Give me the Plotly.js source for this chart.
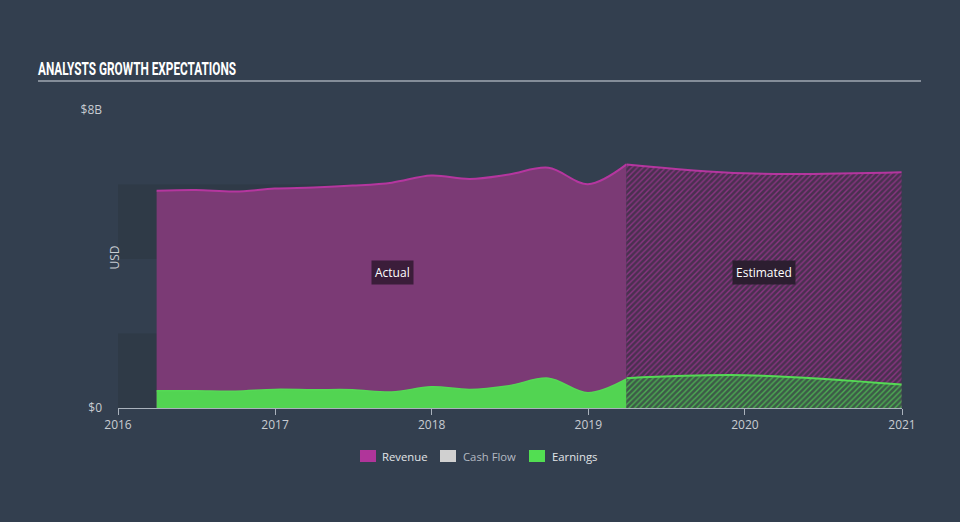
<!DOCTYPE html>
<html>
<head>
<meta charset="utf-8">
<script src="https://cdn.plot.ly/plotly-3.0.1.min.js"></script>
<style>
html,body{margin:0;padding:0;background:#333f4f;}
#chart{width:960px;height:522px;}
</style>
</head>
<body>
<div id="chart"></div>
<script>
// Actual quarterly data (USD billions)
const actualDates = ['2016-03-31','2016-06-30','2016-09-30','2016-12-31','2017-03-31','2017-06-30','2017-09-30','2017-12-31','2018-03-31','2018-06-30','2018-09-30','2018-12-31','2019-03-31'];
const actualRevenue = [5.83,5.85,5.81,5.89,5.92,5.97,6.05,6.24,6.15,6.27,6.45,6.01,6.54];
const actualEarnings = [0.46,0.46,0.45,0.50,0.49,0.49,0.43,0.57,0.50,0.60,0.80,0.41,0.78];
// Analyst estimates
const estDates = ['2019-03-31','2019-12-31','2020-12-31'];
const estRevenue = [6.54,6.30,6.33];
const estEarnings = [0.80,0.88,0.63];
// Axis labels
const xTickVals = ['2016-01-01','2017-01-01','2018-01-01','2019-01-01','2020-01-01','2021-01-01'];
const xTickText = ['2016','2017','2018','2019','2020','2021'];
const yTickVals = [0,8];
const yTickText = ['$0','$8B'];
const legendNames = ['Revenue','Cash Flow','Earnings'];
const legendColors = ['#b0359a','#d0d0d0','#52de52'];
const legendTextColors = ['#e2e5e8','#b4bac2','#e2e5e8'];

const revLine = '#b5369f', revFill = '#7b3a75';
const earnLine = '#55d955', earnFill = '#52d452';

const traces = [
  {x: actualDates, y: actualRevenue, type:'scatter', mode:'lines', fill:'tozeroy',
   line:{color:revLine, width:2, shape:'spline', smoothing:1}, fillcolor:revFill, showlegend:false, hoverinfo:'skip'},
  {x: estDates, y: estRevenue, type:'scatter', mode:'lines', fill:'tozeroy',
   line:{color:revLine, width:2, shape:'spline', smoothing:1}, fillcolor:'#4a3050',
   fillpattern:{shape:'/', bgcolor:'#4a3050', fgcolor:'#8a3582', size:4, solidity:0.35},
   showlegend:false, hoverinfo:'skip'},
  {x: actualDates, y: actualEarnings, type:'scatter', mode:'lines', fill:'tozeroy',
   line:{color:earnLine, width:1.5, shape:'spline', smoothing:1}, fillcolor:earnFill, showlegend:false, hoverinfo:'skip'},
  {x: estDates, y: estEarnings, type:'scatter', mode:'lines', fill:'tozeroy',
   line:{color:earnLine, width:2, shape:'spline', smoothing:1}, fillcolor:'#3d5a48',
   fillpattern:{shape:'/', bgcolor:'#3d5a48', fgcolor:'#4cae52', size:4, solidity:0.35},
   showlegend:false, hoverinfo:'skip'}
];

// pixel -> paper helpers
const PL = 118, PW = 784, PB = 408, PH = 298;
const px = v => (v - PL) / PW;
const py = v => (PB - v) / PH;

const legendSwatchX = [360, 440, 529];
const legendTextX = [380, 461, 550];
const legendShapes = legendNames.map((n, i) => ({
  type:'rect', xref:'paper', yref:'paper',
  x0:px(legendSwatchX[i]), x1:px(legendSwatchX[i] + 16), y0:py(462), y1:py(450),
  fillcolor:legendColors[i], line:{width:0}
}));
const legendAnns = legendNames.map((n, i) => ({
  xref:'paper', yref:'paper', x:px(legendTextX[i]), y:py(456), xanchor:'left', yanchor:'middle',
  text:n, showarrow:false, font:{color:legendTextColors[i], size:11.3}
}));

const layout = {
  width:960, height:522,
  paper_bgcolor:'#333f4f', plot_bgcolor:'#333f4f',
  margin:{l:118, r:58, t:110, b:114},
  font:{family:'"Open Sans", "DejaVu Sans", sans-serif', color:'#c8ccd2', size:12},
  title:{text:'<b>ANALYSTS GROWTH EXPECTATIONS</b>', x:38/960, xref:'container', xanchor:'left',
         y:1-68/522, yref:'container', yanchor:'middle',
         font:{family:'Roboto, "DejaVu Sans", sans-serif', size:19, color:'#ffffff'}},
  xaxis:{type:'date', range:['2016-01-01','2021-01-01'], tickvals:xTickVals, ticktext:xTickText,
         showgrid:false, zeroline:false, showline:true, linecolor:'#aab2bc', linewidth:1,
         ticks:'outside', ticklen:6, tickcolor:'#aab2bc', tickfont:{color:'#c8ccd2', size:12}},
  yaxis:{range:[0,8], tickvals:yTickVals, ticktext:yTickText, showgrid:false, zeroline:false,
         showline:false, ticks:'', ticklabelstandoff:15, tickfont:{color:'#c8ccd2', size:12}},
  shapes:[
    {type:'rect', xref:'x', yref:'y', x0:'2016-01-01', x1:'2021-01-01', y0:0, y1:2, fillcolor:'#2f3a47', line:{width:0}, layer:'below'},
    {type:'rect', xref:'x', yref:'y', x0:'2016-01-01', x1:'2021-01-01', y0:4, y1:6, fillcolor:'#2f3a47', line:{width:0}, layer:'below'},
    {type:'line', xref:'paper', yref:'paper', x0:px(38), x1:px(921), y0:py(81), y1:py(81), line:{color:'#a0a8b2', width:1.5}}
  ].concat(legendShapes),
  annotations:[
    {x:'2017-10-01', y:3.65, xref:'x', yref:'y', text:'Actual', showarrow:false, bgcolor:'#3b1d3a', borderpad:3,
     font:{color:'#ffffff', size:12}},
    {x:'2020-02-15', y:3.65, xref:'x', yref:'y', text:'Estimated', showarrow:false, bgcolor:'#2c1e30', borderpad:3,
     font:{color:'#ffffff', size:12}},
    {x:px(103), y:py(258), xref:'paper', yref:'paper', text:'USD', textangle:-90, showarrow:false,
     font:{color:'#c8ccd2', size:12}}
  ].concat(legendAnns),
  showlegend:false
};

Plotly.newPlot('chart', traces, layout, {displayModeBar:false, staticPlot:true}).then(() => {
  const t = document.querySelector('#chart .gtitle');
  if (t) {
    t.setAttribute('textLength', '198');
    t.setAttribute('lengthAdjust', 'spacingAndGlyphs');
  }
});
</script>
</body>
</html>
